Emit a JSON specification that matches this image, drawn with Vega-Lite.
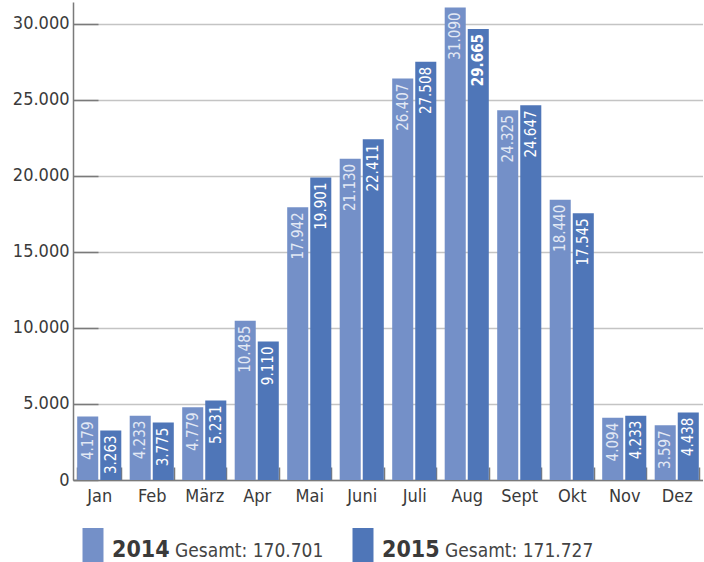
{
  "$schema": "https://vega.github.io/schema/vega-lite/v6.json",
  "padding": {"left": 12, "right": 0, "top": 2, "bottom": 0},
  "config": {
    "view": {"stroke": null},
    "locale": {"number": {"decimal": ",", "thousands": ".", "grouping": [3], "currency": ["", " €"]}},
    "font": "DejaVu Sans Condensed"
  },
  "spacing": 23,
  "vconcat": [
    {
      "width": 630,
      "height": 478,
      "data": {"values": [
        {"month": "Jan", "year": "2014", "value": 4179}, {"month": "Jan", "year": "2015", "value": 3263},
        {"month": "Feb", "year": "2014", "value": 4233}, {"month": "Feb", "year": "2015", "value": 3775},
        {"month": "März", "year": "2014", "value": 4779}, {"month": "März", "year": "2015", "value": 5231},
        {"month": "Apr", "year": "2014", "value": 10485}, {"month": "Apr", "year": "2015", "value": 9110},
        {"month": "Mai", "year": "2014", "value": 17942}, {"month": "Mai", "year": "2015", "value": 19901},
        {"month": "Juni", "year": "2014", "value": 21130}, {"month": "Juni", "year": "2015", "value": 22411},
        {"month": "Juli", "year": "2014", "value": 26407}, {"month": "Juli", "year": "2015", "value": 27508},
        {"month": "Aug", "year": "2014", "value": 31090}, {"month": "Aug", "year": "2015", "value": 29665},
        {"month": "Sept", "year": "2014", "value": 24325}, {"month": "Sept", "year": "2015", "value": 24647},
        {"month": "Okt", "year": "2014", "value": 18440}, {"month": "Okt", "year": "2015", "value": 17545},
        {"month": "Nov", "year": "2014", "value": 4094}, {"month": "Nov", "year": "2015", "value": 4233},
        {"month": "Dez", "year": "2014", "value": 3597}, {"month": "Dez", "year": "2015", "value": 4438}
      ]},
      "encoding": {
        "x": {"field": "month", "type": "nominal", "sort": null,
          "scale": {"paddingInner": 0.16, "paddingOuter": 0.08},
          "axis": {"title": null, "labelAngle": 0, "labelFontSize": 18, "labelColor": "#3a3a3a",
            "tickBand": "extent", "tickSize": -13, "tickColor": "#7a7a7a", "tickWidth": 1.5,
            "labelPadding": 20, "domainColor": "#7a7a7a", "domainWidth": 1.5, "grid": false}},
        "xOffset": {"field": "year", "type": "nominal", "scale": {"paddingInner": 0.087, "paddingOuter": 0}},
        "y": {"field": "value", "type": "quantitative",
          "scale": {"domain": [0, 31447], "nice": false, "zero": true},
          "axis": {"title": null, "values": [0, 5000, 10000, 15000, 20000, 25000, 30000], "format": ",d",
            "labelFontSize": 18, "labelColor": "#3a3a3a", "tickSize": -25, "tickColor": "#7a7a7a", "tickWidth": 1.5,
            "labelPadding": 29, "domainColor": "#7a7a7a", "domainWidth": 1.5,
            "grid": true, "gridColor": "#c4c4c4", "gridWidth": 1.5}}
      },
      "layer": [
        {"mark": {"type": "bar"},
          "encoding": {"color": {"field": "year", "type": "nominal",
            "scale": {"domain": ["2014", "2015"], "range": ["#7490c8", "#4f76b8"]}, "legend": null}}},
        {"transform": [{"filter": "!(datum.month === 'Aug' && datum.year === '2015')"}],
          "mark": {"type": "text", "angle": 270, "align": "right", "baseline": "middle", "dx": -5, "fontSize": 15},
          "encoding": {"text": {"field": "value", "type": "quantitative", "format": ",d"},
            "color": {"condition": {"test": "datum.year === '2014'", "value": "#e2e8f4"}, "value": "#ffffff"}}},
        {"transform": [{"filter": "datum.month === 'Aug' && datum.year === '2015'"}],
          "mark": {"type": "text", "angle": 270, "align": "right", "baseline": "middle", "dx": -5, "fontSize": 15, "fontWeight": "bold", "color": "#ffffff"},
          "encoding": {"text": {"field": "value", "type": "quantitative", "format": ",d"}}}
      ]
    },
    {
      "width": 270,
      "height": 36,
      "data": {"values": [
        {"year": "2014", "gesamt": "Gesamt: 170.701"},
        {"year": "2015", "gesamt": "Gesamt: 171.727"}
      ]},
      "encoding": {
        "x": {"field": "year", "type": "nominal", "scale": {"type": "point", "padding": 0}, "axis": null}
      },
      "layer": [
        {"mark": {"type": "bar", "width": 21, "xOffset": 20},
          "encoding": {"color": {"field": "year", "type": "nominal",
            "scale": {"domain": ["2014", "2015"], "range": ["#7490c8", "#4f76b8"]}, "legend": null}}},
        {"mark": {"type": "text", "align": "left", "baseline": "alphabetic", "dx": 39, "dy": 11, "fontSize": 23, "fontWeight": "bold", "color": "#3a3a3a"},
          "encoding": {"text": {"field": "year", "type": "nominal"}}},
        {"mark": {"type": "text", "align": "left", "baseline": "alphabetic", "dx": 102, "dy": 11, "fontSize": 19, "color": "#444444"},
          "encoding": {"text": {"field": "gesamt", "type": "nominal"}}}
      ]
    }
  ]
}
